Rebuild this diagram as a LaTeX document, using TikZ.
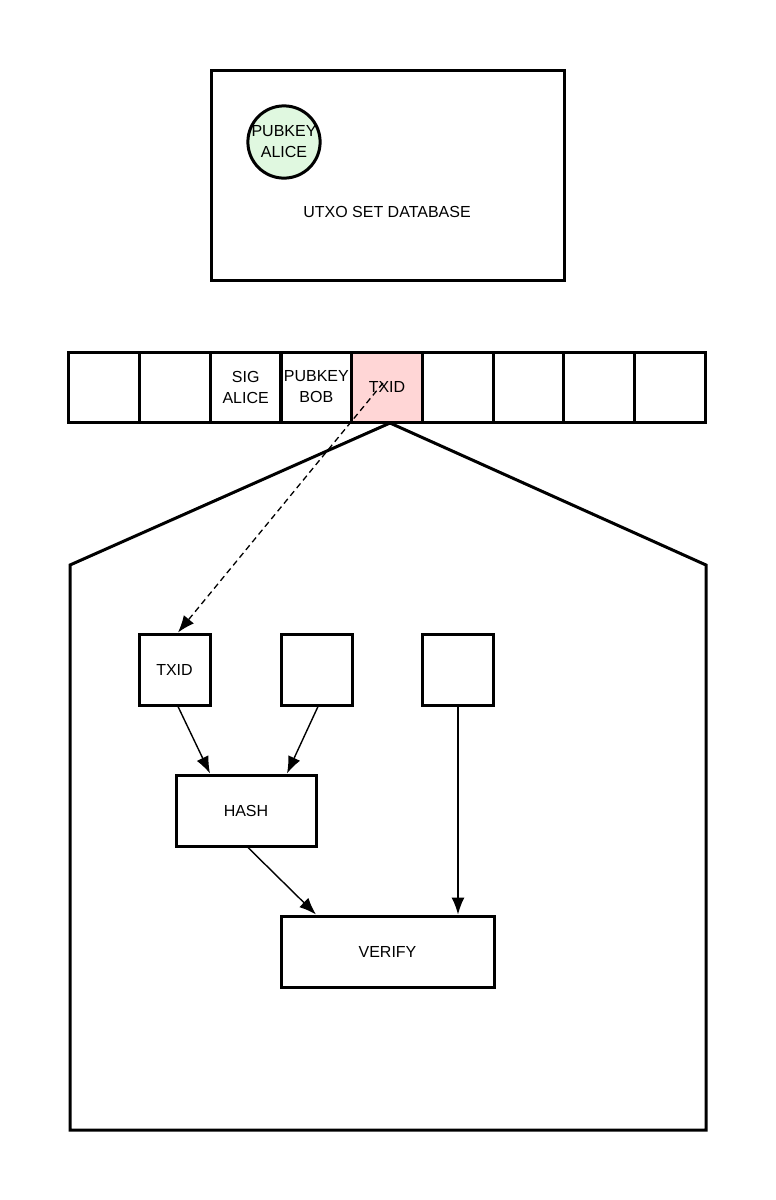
\documentclass[tikz,border=0pt]{standalone}
\usepackage{fontspec}
\setmainfont{Liberation Sans}
\usetikzlibrary{arrows.meta}
\definecolor{pinkfill}{HTML}{FFD6D6}
\definecolor{greenfill}{HTML}{E0F8E0}
\tikzset{
  box/.style={draw, line width=3pt, minimum width=71pt, minimum height=71pt, inner sep=0pt, align=center, font=\fontsize{16}{21}\selectfont},
  cell/.style={draw, line width=3pt, minimum width=70.7pt, minimum height=70pt, inner sep=0pt, align=center, font=\fontsize{16}{21}\selectfont},
  conn/.style={line width=1.4pt, -{Latex[length=17pt,width=13pt]}},
  lbl/.style={font=\fontsize{16}{21}\selectfont, align=center}
}
\begin{document}
\begin{tikzpicture}[x=1pt,y=-1pt]
\useasboundingbox (0,0) rectangle (776,1200);
% UTXO database
\node[draw, line width=3pt, minimum width=353pt, minimum height=210pt, inner sep=0pt] (db) at (387.5,175) {};
\node[lbl] (dblabel) at (387,212) {UTXO SET DATABASE};
\node[draw, circle, fill=greenfill, line width=3pt, minimum size=72pt, inner sep=0pt, lbl] (pka) at (284,142) {PUBKEY\\ALICE};
% transaction row
\foreach \i in {0,...,8} {
  \node[cell] (c\i) at ({69+70.67*\i+35.33},387) {};
}
\node[cell, fill=pinkfill] (c4) at ({69+70.67*4+35.33},387) {};
\node[lbl] (sig) at (c2.center) {SIG\\ALICE};
\node[lbl] (pkb) at (c3.center) {PUBKEY\\BOB};
\node[lbl] (txidcell) at (c4.center) {TXID};
% expanded view
\coordinate (apex) at (390,423);
\draw[line width=3pt, line join=miter] (70,1130) -- (70,565) -- (apex) -- (706,565) -- (706,1130) -- cycle;
% inner nodes
\node[box] (txid) at (174.5,669.5) {TXID};
\node[box] (b2) at (316.5,669.5) {};
\node[box] (b3) at (457.5,669.5) {};
\node[box, minimum width=140pt] (hash) at (246,810.5) {HASH};
\node[box, minimum width=213pt] (verify) at (387.5,951.5) {VERIFY};
% connectors
\draw[line width=1.3pt, dash pattern=on 6pt off 4pt, -{Latex[length=17pt,width=13pt]}] (383,383) -- (txid.north -| 178,0);
\draw[conn] (txid.south -| 178,0) -- (hash.north -| 210,0);
\draw[conn] (b2.south -| 318,0) -- (hash.north -| 287,0);
\draw[conn] (b3.south -| 458,0) -- (verify.north -| 458,0);
\draw[conn] (hash.south -| 248,0) -- (verify.north -| 316,0);
\end{tikzpicture}
\end{document}
